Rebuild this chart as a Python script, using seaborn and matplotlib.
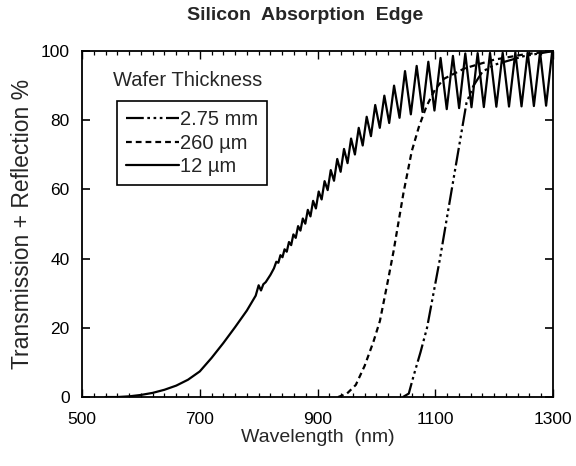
import matplotlib
matplotlib.use("Agg")
import matplotlib.pyplot as plt
import seaborn as sns
from matplotlib.ticker import MultipleLocator

# wavelength (nm) / transmission + reflection (%)
wl_12um = [540, 560, 580, 600, 620, 640, 660, 680, 700, 720, 740, 760, 780, 795,
           800, 804, 808, 812, 820, 826,
           830, 833.5, 837, 840.5, 844, 847.75, 851.5, 855.25, 859, 863,
           867, 871, 875, 879.25, 883.5, 888, 892.5, 897.25, 902, 907,
           912, 917.25, 922.5, 928, 933.5, 939.25, 945, 951, 957, 963.5,
           970, 976.75, 983.5, 990.75, 998, 1005.75, 1013.5, 1021.75, 1030, 1039.3,
           1048.6, 1058.5, 1068.4, 1078.3, 1088.2, 1098.6, 1109, 1119.5, 1130, 1140.5,
           1151, 1161.5, 1172, 1182.5, 1193, 1203.75, 1214.5, 1225.25, 1236, 1246.5,
           1257, 1267.5, 1278, 1288.25, 1298.5, 1300]
tr_12um = [0.0, 0.0, 0.2, 0.6, 1.2, 2.1, 3.3, 5.0, 7.4, 11.3, 15.6, 20.2, 25.0, 29.3,
           32.3, 30.8, 32.6, 33.2, 35.3, 37.2,
           39.1, 38.8, 41.0, 40.4, 42.7, 42.0, 44.8, 43.9, 47.0, 46.0,
           49.4, 48.1, 51.6, 50.1, 54.1, 52.2, 56.7, 54.5, 59.4, 57.1,
           62.4, 59.8, 65.6, 62.5, 68.8, 65.1, 71.7, 67.6, 74.7, 70.1,
           77.8, 72.7, 81.0, 75.4, 84.4, 77.8, 87.1, 79.2, 90.0, 80.7,
           94.2, 81.7, 95.7, 82.4, 96.9, 82.8, 98.0, 83.2, 98.6, 83.5,
           99.3, 83.75, 99.4, 83.8, 99.45, 83.9, 99.5, 83.95, 99.6, 84.0,
           99.6, 84.1, 99.7, 84.2, 99.8, 99.5]

wl_260um = [935, 950, 965, 980, 995, 1006, 1020, 1029, 1046, 1060, 1072, 1085,
            1100, 1115, 1150, 1200, 1250, 1300]
tr_260um = [0.0, 1.0, 3.5, 9.0, 16.0, 22.0, 34.0, 42.0, 59.0, 71.0, 78.0, 84.0,
            89.0, 92.0, 95.0, 97.5, 99.0, 100.0]

wl_275mm = [1045, 1055, 1063, 1075, 1086, 1097, 1108, 1125, 1139, 1153,
            1165, 1180, 1200, 1250, 1300]
tr_275mm = [0.0, 1.0, 6.0, 13.0, 20.0, 30.0, 40.0, 57.0, 71.0, 85.0,
            90.0, 94.0, 96.0, 98.5, 100.0]

labels = ["2.75 mm", "260 \u00b5m", "12 \u00b5m"]

sns.set_style("ticks")
plt.rcParams["font.family"] = ["Liberation Sans", "DejaVu Sans"]

fig = plt.figure(figsize=(5.76, 4.66), dpi=100)
ax = fig.add_axes([0.1424, 0.148, 0.8177, 0.7425])

lw = 1.6
sns.lineplot(x=wl_275mm, y=tr_275mm, ax=ax, color="black", lw=lw,
             linestyle=(0, (8, 1.6, 1.2, 1.6, 1.2, 1.6, 1.2, 1.6)), label=labels[0],
             errorbar=None, sort=False)
sns.lineplot(x=wl_260um, y=tr_260um, ax=ax, color="black", lw=lw,
             linestyle=(0, (2.6, 1.8)), label=labels[1], errorbar=None, sort=False)
sns.lineplot(x=wl_12um, y=tr_12um, ax=ax, color="black", lw=lw,
             linestyle="-", label=labels[2], errorbar=None, sort=False)

ax.set_xlim(500, 1300)
ax.set_ylim(0, 100)
ax.set_xticks([500, 700, 900, 1100, 1300])
ax.xaxis.set_minor_locator(MultipleLocator(20))
ax.set_yticks([0, 20, 40, 60, 80, 100])

ax.tick_params(axis="both", which="both", direction="in", top=True, right=True,
               colors="black")
ax.tick_params(axis="x", which="major", length=5.5, width=1.0, pad=11, labelsize=12.5)
ax.tick_params(axis="x", which="minor", length=3.2, width=0.9)
ax.tick_params(axis="y", which="major", length=5.8, width=1.2, pad=9, labelsize=12.5)
for s in ax.spines.values():
    s.set_linewidth(1.3)
    s.set_color("black")

ax.set_xlabel("Wavelength  (nm)", fontsize=14, labelpad=1)
ax.set_ylabel("Transmission + Reflection %", fontsize=16.5, labelpad=5)

leg = ax.legend(loc="upper left", bbox_to_anchor=(0.0737, 0.855), fontsize=14.5,
                frameon=True, fancybox=False, framealpha=1, edgecolor="black",
                handlelength=2.65, handletextpad=0.05, labelspacing=0.22,
                borderpad=0.45, borderaxespad=0)
leg.get_frame().set_linewidth(1.2)
ax.text(0.0665, 0.916, "Wafer Thickness", transform=ax.transAxes, fontsize=14.5,
        ha="left", va="center")

fig.text(0.5295, 0.967, "Silicon  Absorption  Edge", ha="center", va="center",
         fontsize=14, fontweight="bold")

fig.savefig("out.png", dpi=100)
